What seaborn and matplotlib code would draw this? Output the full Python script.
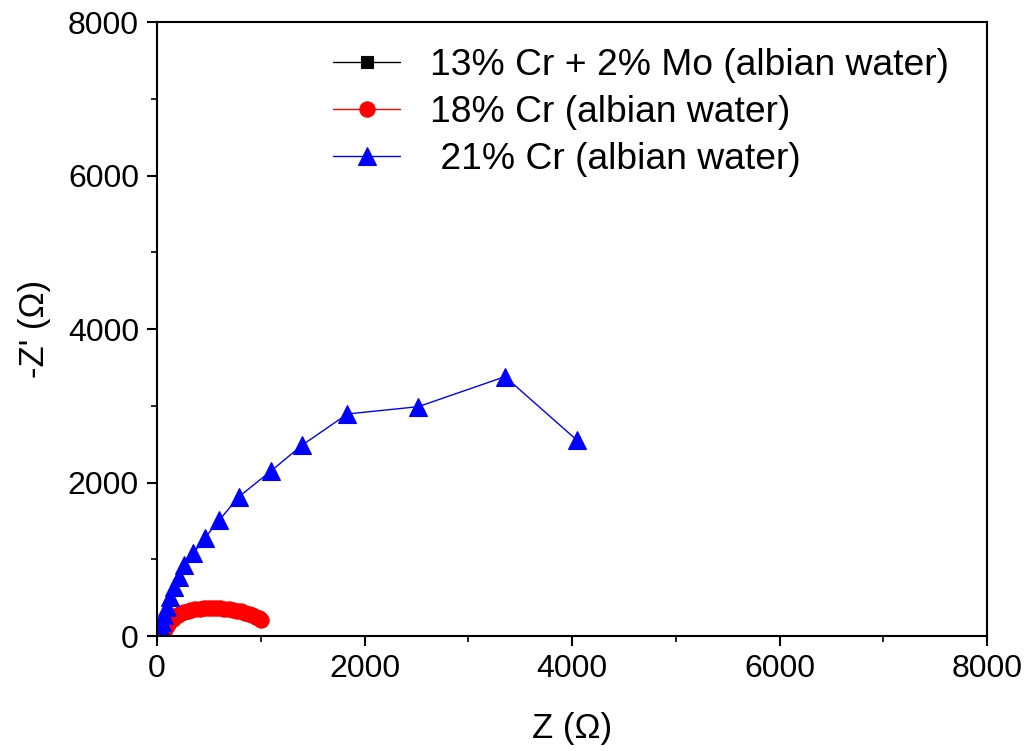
import matplotlib
matplotlib.use("Agg")
import matplotlib.pyplot as plt
import seaborn as sns
import pandas as pd
from matplotlib.ticker import MultipleLocator

# Nyquist data: real part Z and -Z' (ohm) for each alloy in albian water
labels = ["13% Cr + 2% Mo (albian water)", "18% Cr (albian water)", " 21% Cr (albian water)"]

z_mo13 = [20, 24, 28, 32, 36, 40]
zi_mo13 = [10, 30, 55, 85, 115, 145]

z_cr18 = [60, 70, 80, 95, 110, 130, 150, 175, 200, 230, 260, 295, 330, 370, 410,
          450, 490, 530, 570, 610, 650, 690, 730, 770, 810, 850, 885, 920, 950, 980, 1005]
zi_cr18 = [30, 60, 90, 125, 160, 195, 225, 255, 280, 300, 318, 332, 343, 352, 358,
           362, 364, 365, 364, 361, 356, 350, 342, 332, 320, 305, 290, 272, 252, 232, 210]

z_cr21 = [29, 39, 48, 67, 96, 125, 164, 212, 260, 350, 463, 601, 790, 1099,
          1401, 1835, 2519, 3354, 4045]
zi_cr21 = [52, 104, 182, 274, 378, 508, 638, 769, 925, 1077, 1281, 1511, 1815, 2150,
           2489, 2893, 2988, 3379, 2554]

colors = ["black", "red", "blue"]
markers = ["s", "o", "^"]
msizes = [9, 11, 13]

sns.set_style("ticks")
plt.rcParams["font.family"] = ["Liberation Sans", "DejaVu Sans"]
plt.rcParams["text.color"] = "black"
plt.rcParams["axes.labelcolor"] = "black"
plt.rcParams["xtick.color"] = "black"
plt.rcParams["ytick.color"] = "black"

fig = plt.figure(figsize=(10.28, 7.51), dpi=100)
ax = fig.add_axes([157 / 1028, 1 - 636 / 751, 830 / 1028, 614 / 751])

series = [(z_mo13, zi_mo13), (z_cr18, zi_cr18), (z_cr21, zi_cr21)]
for (zx, zy), lab, c, m, ms in zip(series, labels, colors, markers, msizes):
    df = pd.DataFrame({"Z": zx, "Zi": zy})
    sns.lineplot(data=df, x="Z", y="Zi", sort=False, estimator=None, ax=ax,
                 color=c, marker=m, markersize=ms, markeredgewidth=0.8,
                 markeredgecolor=c, linewidth=1.0, label=lab)

ax.set_xlim(0, 8000)
ax.set_ylim(0, 8000)
ax.xaxis.set_major_locator(MultipleLocator(2000))
ax.xaxis.set_minor_locator(MultipleLocator(1000))
ax.yaxis.set_major_locator(MultipleLocator(2000))
ax.yaxis.set_minor_locator(MultipleLocator(1000))
ax.tick_params(which="major", direction="out", length=7, width=1.5, labelsize=23,
               top=False, right=False, pad=6)
ax.tick_params(which="minor", direction="out", length=4, width=1.2,
               top=False, right=False)
for sp in ax.spines.values():
    sp.set_visible(True)
    sp.set_linewidth(1.5)
    sp.set_color("black")

ax.set_xlabel("Z (Ω)", fontsize=25, labelpad=20)
ax.set_ylabel("-Z' (Ω)", fontsize=25, labelpad=12)

leg = ax.legend(loc="upper left", bbox_to_anchor=(333 / 1028, 1 - 48 / 751),
                bbox_transform=fig.transFigure, frameon=False, fontsize=26.8,
                handlelength=1.8, handletextpad=0.8, labelspacing=0.32,
                borderpad=0, borderaxespad=0)

fig.savefig("out.png", dpi=100)
